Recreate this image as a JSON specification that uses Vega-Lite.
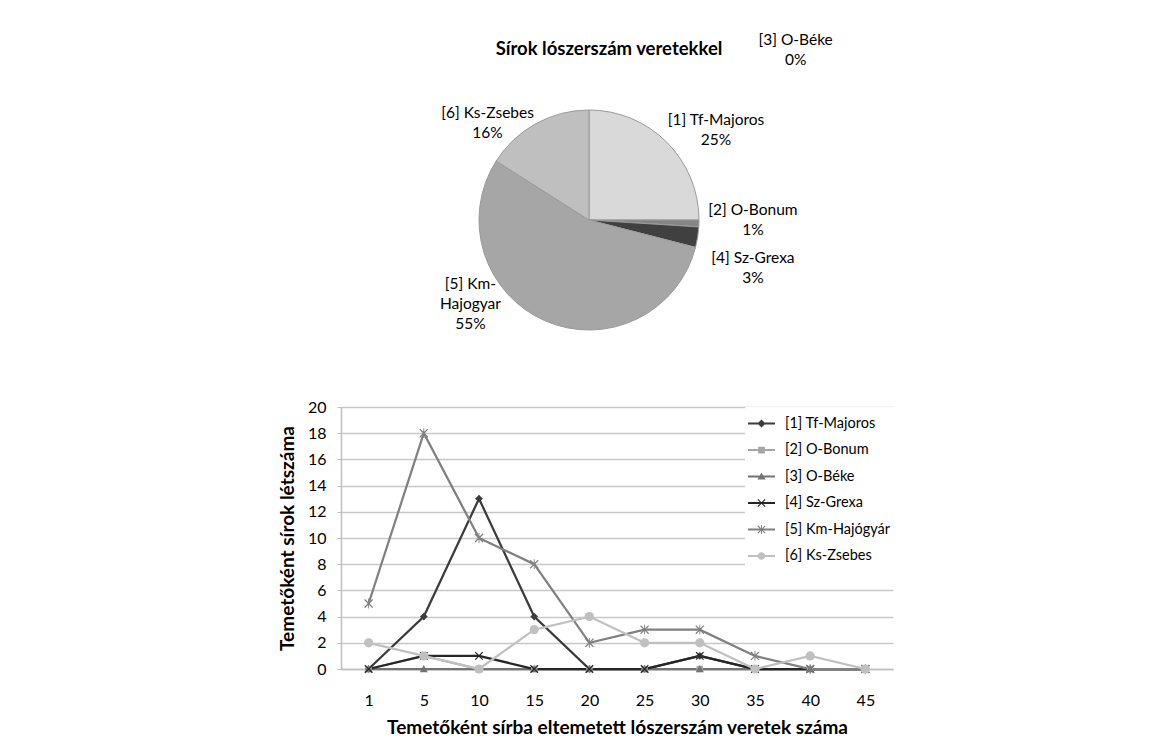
{
  "$schema": "https://vega.github.io/schema/vega-lite/v6.json",
  "background": "white",
  "padding": {"left": 278, "top": 32, "right": 5, "bottom": 5},
  "bounds": "flush",
  "spacing": 27,
  "config": {
    "view": {"stroke": null},
    "font": "Lato",
    "text": {"font": "Lato"}
  },
  "resolve": {"scale": {"fill": "independent", "color": "independent", "shape": "independent"}, "legend": {"color": "independent", "shape": "independent"}},
  "vconcat": [
    {
      "width": 496,
      "height": 320,
      "title": {"text": "Sírok lószerszám veretekkel", "font": "Lato", "fontSize": 18.5, "fontWeight": "bold", "color": "#000000", "anchor": "middle", "frame": "group", "dx": 20, "offset": -26},
      "data": {"values": [
        {"slice": "[1] Tf-Majoros", "label": "[1] Tf-Majoros\n25%", "value": 25},
        {"slice": "[2] O-Bonum", "label": "[2] O-Bonum\n1%", "value": 1},
        {"slice": "[3] O-Béke", "label": "[3] O-Béke\n0%", "value": 0},
        {"slice": "[4] Sz-Grexa", "label": "[4] Sz-Grexa\n3%", "value": 3},
        {"slice": "[5] Km-Hajogyar", "label": "[5] Km-\nHajogyar\n55%", "value": 55},
        {"slice": "[6] Ks-Zsebes", "label": "[6] Ks-Zsebes\n16%", "value": 16}
      ]},
      "layer": [
        {
          "mark": {"type": "arc", "outerRadius": 110, "stroke": "#9a9a9a", "strokeWidth": 1},
          "encoding": {
            "theta": {"field": "value", "type": "quantitative", "stack": true, "scale": {"domain": [0, 100]}},
            "fill": {"field": "slice", "type": "nominal", "legend": null,
              "scale": {"domain": ["[1] Tf-Majoros", "[2] O-Bonum", "[3] O-Béke", "[4] Sz-Grexa", "[5] Km-Hajogyar", "[6] Ks-Zsebes"],
                        "range": ["#d9d9d9", "#858585", "#6e6e6e", "#404040", "#a6a6a6", "#bfbfbf"]}}
          }
        },
        {
          "transform": [
            {"stack": "value", "groupby": [], "sort": [{"field": "slice", "order": "ascending"}], "as": ["v0", "v1"]},
            {"calculate": "(datum.v0 + datum.v1) / 2", "as": "mid"}
          ],
          "encoding": {
            "theta": {"field": "mid", "type": "quantitative", "scale": {"domain": [0, 100]}},
            "text": {"field": "label"}
          },
          "layer": [
            {"transform": [{"filter": "datum.slice == '[1] Tf-Majoros'"}],
             "mark": {"type": "text", "radius": 150, "dx": 21, "dy": 6, "lineBreak": "\n", "lineHeight": 20, "fontSize": 15.5, "align": "center", "baseline": "middle", "color": "#000000"}},
            {"transform": [{"filter": "datum.slice == '[2] O-Bonum'"}],
             "mark": {"type": "text", "radius": 164, "dx": 0, "dy": -15, "lineBreak": "\n", "lineHeight": 20, "fontSize": 15.5, "align": "center", "baseline": "middle", "color": "#000000"}},
            {"transform": [{"filter": "datum.slice == '[3] O-Béke'"}],
             "mark": {"type": "text", "radius": 207, "dx": 0, "dy": -193, "lineBreak": "\n", "lineHeight": 20, "fontSize": 15.5, "align": "center", "baseline": "middle", "color": "#000000"}},
            {"transform": [{"filter": "datum.slice == '[4] Sz-Grexa'"}],
             "mark": {"type": "text", "radius": 168, "dx": -2, "dy": 12, "lineBreak": "\n", "lineHeight": 20, "fontSize": 15.5, "align": "center", "baseline": "middle", "color": "#000000"}},
            {"transform": [{"filter": "datum.slice == '[5] Km-Hajogyar'"}],
             "mark": {"type": "text", "radius": 150, "dx": -59, "dy": -74, "lineBreak": "\n", "lineHeight": 20, "fontSize": 15.5, "align": "center", "baseline": "middle", "color": "#000000"}},
            {"transform": [{"filter": "datum.slice == '[6] Ks-Zsebes'"}],
             "mark": {"type": "text", "radius": 140, "dx": -34, "dy": 16, "lineBreak": "\n", "lineHeight": 20, "fontSize": 15.5, "align": "center", "baseline": "middle", "color": "#000000"}}
          ]
        }
      ]
    },
    {
      "width": 552,
      "height": 262,
      "data": {"values": [
        {"series": "[1] Tf-Majoros", "x": 1, "y": 0}, {"series": "[1] Tf-Majoros", "x": 5, "y": 4}, {"series": "[1] Tf-Majoros", "x": 10, "y": 13}, {"series": "[1] Tf-Majoros", "x": 15, "y": 4}, {"series": "[1] Tf-Majoros", "x": 20, "y": 0},
        {"series": "[1] Tf-Majoros", "x": 25, "y": 0}, {"series": "[1] Tf-Majoros", "x": 30, "y": 1}, {"series": "[1] Tf-Majoros", "x": 35, "y": 0}, {"series": "[1] Tf-Majoros", "x": 40, "y": 0}, {"series": "[1] Tf-Majoros", "x": 45, "y": 0},
        {"series": "[2] O-Bonum", "x": 1, "y": 0}, {"series": "[2] O-Bonum", "x": 5, "y": 1}, {"series": "[2] O-Bonum", "x": 10, "y": 0}, {"series": "[2] O-Bonum", "x": 15, "y": 0}, {"series": "[2] O-Bonum", "x": 20, "y": 0},
        {"series": "[2] O-Bonum", "x": 25, "y": 0}, {"series": "[2] O-Bonum", "x": 30, "y": 0}, {"series": "[2] O-Bonum", "x": 35, "y": 0}, {"series": "[2] O-Bonum", "x": 40, "y": 0}, {"series": "[2] O-Bonum", "x": 45, "y": 0},
        {"series": "[3] O-Béke", "x": 1, "y": 0}, {"series": "[3] O-Béke", "x": 5, "y": 0}, {"series": "[3] O-Béke", "x": 10, "y": 0}, {"series": "[3] O-Béke", "x": 15, "y": 0}, {"series": "[3] O-Béke", "x": 20, "y": 0},
        {"series": "[3] O-Béke", "x": 25, "y": 0}, {"series": "[3] O-Béke", "x": 30, "y": 0}, {"series": "[3] O-Béke", "x": 35, "y": 0}, {"series": "[3] O-Béke", "x": 40, "y": 0}, {"series": "[3] O-Béke", "x": 45, "y": 0},
        {"series": "[4] Sz-Grexa", "x": 1, "y": 0}, {"series": "[4] Sz-Grexa", "x": 5, "y": 1}, {"series": "[4] Sz-Grexa", "x": 10, "y": 1}, {"series": "[4] Sz-Grexa", "x": 15, "y": 0}, {"series": "[4] Sz-Grexa", "x": 20, "y": 0},
        {"series": "[4] Sz-Grexa", "x": 25, "y": 0}, {"series": "[4] Sz-Grexa", "x": 30, "y": 1}, {"series": "[4] Sz-Grexa", "x": 35, "y": 0}, {"series": "[4] Sz-Grexa", "x": 40, "y": 0}, {"series": "[4] Sz-Grexa", "x": 45, "y": 0},
        {"series": "[5] Km-Hajógyár", "x": 1, "y": 5}, {"series": "[5] Km-Hajógyár", "x": 5, "y": 18}, {"series": "[5] Km-Hajógyár", "x": 10, "y": 10}, {"series": "[5] Km-Hajógyár", "x": 15, "y": 8}, {"series": "[5] Km-Hajógyár", "x": 20, "y": 2},
        {"series": "[5] Km-Hajógyár", "x": 25, "y": 3}, {"series": "[5] Km-Hajógyár", "x": 30, "y": 3}, {"series": "[5] Km-Hajógyár", "x": 35, "y": 1}, {"series": "[5] Km-Hajógyár", "x": 40, "y": 0}, {"series": "[5] Km-Hajógyár", "x": 45, "y": 0},
        {"series": "[6] Ks-Zsebes", "x": 1, "y": 2}, {"series": "[6] Ks-Zsebes", "x": 5, "y": 1}, {"series": "[6] Ks-Zsebes", "x": 10, "y": 0}, {"series": "[6] Ks-Zsebes", "x": 15, "y": 3}, {"series": "[6] Ks-Zsebes", "x": 20, "y": 4},
        {"series": "[6] Ks-Zsebes", "x": 25, "y": 2}, {"series": "[6] Ks-Zsebes", "x": 30, "y": 2}, {"series": "[6] Ks-Zsebes", "x": 35, "y": 0}, {"series": "[6] Ks-Zsebes", "x": 40, "y": 1}, {"series": "[6] Ks-Zsebes", "x": 45, "y": 0}
      ]},
      "encoding": {
        "x": {"field": "x", "type": "ordinal",
          "scale": {"type": "point", "padding": 0.5, "domain": [1, 5, 10, 15, 20, 25, 30, 35, 40, 45]},
          "axis": {"title": "Temetőként sírba eltemetett lószerszám veretek száma", "labelAngle": 0, "labelFont": "Lato", "labelFontSize": 16, "labelColor": "#000000", "labelPadding": 23, "ticks": false, "grid": false,
                   "domainColor": "#bfbfbf", "domainWidth": 1.5, "titleFont": "Lato", "titleFontSize": 19, "titleFontWeight": "bold", "titleColor": "#000000", "titlePadding": 10}},
        "y": {"field": "y", "type": "quantitative",
          "scale": {"domain": [0, 20]},
          "axis": {"title": "Temetőként sírok létszáma", "values": [0, 2, 4, 6, 8, 10, 12, 14, 16, 18, 20], "labelFont": "Lato", "labelFontSize": 16, "labelColor": "#000000", "labelPadding": 11,
                   "tickSize": 4, "tickColor": "#bfbfbf", "domainColor": "#bfbfbf", "domainWidth": 1.5, "gridColor": "#c8c8c8", "gridWidth": 1.5,
                   "titleFont": "Lato", "titleFontSize": 19, "titleFontWeight": "bold", "titleColor": "#000000", "titlePadding": 10}}
      },
      "layer": [
        {"mark": {"type": "line", "strokeWidth": 2.25},
         "encoding": {"stroke": {"field": "series", "type": "nominal", "legend": null,
          "scale": {"domain": ["[6] Ks-Zsebes", "[5] Km-Hajógyár", "[4] Sz-Grexa", "[3] O-Béke", "[2] O-Bonum", "[1] Tf-Majoros"],
                    "range": ["#c0c0c0", "#808080", "#262626", "#737373", "#a6a6a6", "#3c3c3c"]}}}},
        {"encoding": {"fill": {"field": "series", "type": "nominal", "legend": null,
          "scale": {"domain": ["[5] Km-Hajógyár", "[6] Ks-Zsebes", "[3] O-Béke", "[4] Sz-Grexa", "[1] Tf-Majoros", "[2] O-Bonum"],
                    "range": ["#808080", "#c0c0c0", "#737373", "#262626", "#3c3c3c", "#a6a6a6"]}}},
         "layer": [
          {"transform": [{"filter": "datum.series == '[1] Tf-Majoros'"}],
           "mark": {"type": "point", "filled": true, "opacity": 1, "size": 60, "shape": "M0,-1L1,0L0,1L-1,0Z"}},
          {"transform": [{"filter": "datum.series == '[2] O-Bonum'"}],
           "mark": {"type": "point", "filled": true, "opacity": 1, "size": 64, "shape": "M-0.8,-0.8H0.8V0.8H-0.8Z"}},
          {"transform": [{"filter": "datum.series == '[3] O-Béke'"}],
           "mark": {"type": "point", "filled": true, "opacity": 1, "size": 64, "shape": "M0,-1L1,0.8H-1Z"}},
          {"transform": [{"filter": "datum.series == '[4] Sz-Grexa'"}],
           "mark": {"type": "point", "filled": true, "opacity": 1, "size": 70, "shape": "M-1,-0.8L-0.8,-1L0,-0.2L0.8,-1L1,-0.8L0.2,0L1,0.8L0.8,1L0,0.2L-0.8,1L-1,0.8L-0.2,0Z"}},
          {"transform": [{"filter": "datum.series == '[5] Km-Hajógyár'"}],
           "mark": {"type": "point", "filled": true, "opacity": 1, "size": 80, "shape": "M-1,-0.8L-0.8,-1L0,-0.2L0.8,-1L1,-0.8L0.2,0L1,0.8L0.8,1L0,0.2L-0.8,1L-1,0.8L-0.2,0Z M-0.1,-1.1H0.1V1.1H-0.1Z"}},
          {"transform": [{"filter": "datum.series == '[6] Ks-Zsebes'"}],
           "mark": {"type": "point", "filled": true, "opacity": 1, "size": 85, "shape": "circle"}}
         ]},
        {
          "mark": {"type": "point", "filled": true, "opacity": 0},
          "encoding": {
            "color": {"field": "series", "type": "nominal",
              "scale": {"domain": ["[1] Tf-Majoros", "[2] O-Bonum", "[3] O-Béke", "[4] Sz-Grexa", "[5] Km-Hajógyár", "[6] Ks-Zsebes"],
                        "range": ["#3c3c3c", "#a6a6a6", "#737373", "#262626", "#808080", "#c0c0c0"]},
              "legend": {"orient": "top-right", "offset": 0, "title": null, "fillColor": "white", "strokeColor": "white", "padding": 3, "labelFont": "Lato", "labelFontSize": 14.5, "labelColor": "#000000", "labelOffset": 10, "symbolSize": 729, "rowPadding": 6.5, "symbolOpacity": 1, "symbolStrokeWidth": 0}},
            "shape": {"field": "series", "type": "nominal",
              "scale": {"domain": ["[1] Tf-Majoros", "[2] O-Bonum", "[3] O-Béke", "[4] Sz-Grexa", "[5] Km-Hajógyár", "[6] Ks-Zsebes"],
                        "range": [
                          "M-1,-0.08H1V0.08H-1Z M0,-0.3L0.3,0L0,0.3L-0.3,0Z",
                          "M-1,-0.08H1V0.08H-1Z M-0.25,-0.25H0.25V0.25H-0.25Z",
                          "M-1,-0.08H1V0.08H-1Z M0,-0.3L0.3,0.22H-0.3Z",
                          "M-1,-0.08H1V0.08H-1Z M-0.3,-0.24L-0.24,-0.3L0,-0.06L0.24,-0.3L0.3,-0.24L0.06,0L0.3,0.24L0.24,0.3L0,0.06L-0.24,0.3L-0.3,0.24L-0.06,0Z",
                          "M-1,-0.08H1V0.08H-1Z M-0.3,-0.24L-0.24,-0.3L0,-0.06L0.24,-0.3L0.3,-0.24L0.06,0L0.3,0.24L0.24,0.3L0,0.06L-0.24,0.3L-0.3,0.24L-0.06,0Z M-0.035,-0.33H0.035V0.33H-0.035Z",
                          "M-1,-0.08H1V0.08H-1Z M0.28,0A0.28,0.28 0 1,1 -0.28,0A0.28,0.28 0 1,1 0.28,0Z"
                        ]},
              "legend": {"orient": "top-right", "offset": 0, "title": null, "fillColor": "white", "strokeColor": "white", "padding": 3, "labelFont": "Lato", "labelFontSize": 14.5, "labelColor": "#000000", "labelOffset": 10, "symbolSize": 729, "rowPadding": 6.5, "symbolOpacity": 1, "symbolStrokeWidth": 0}}
          }
        }
      ]
    }
  ]
}
